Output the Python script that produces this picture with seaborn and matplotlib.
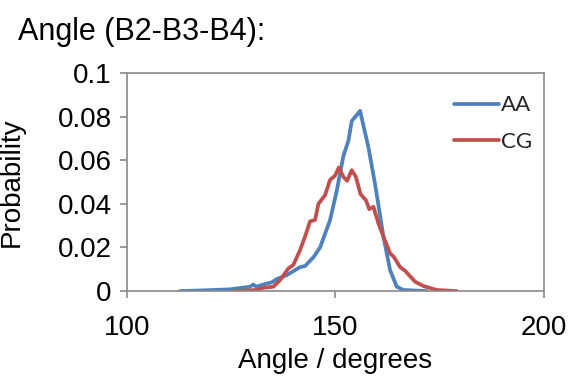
import matplotlib
matplotlib.use("Agg")
import matplotlib.pyplot as plt
import seaborn as sns
import pandas as pd

aa_angle = [112.7, 118.0, 124.7, 129.5, 130.3, 131.0, 132.7, 134.7, 135.9, 138.3, 141.5, 142.7,
            144.7, 146.3, 148.7, 150.3, 151.9, 153.1, 153.9, 155.9, 157.9, 159.5, 161.5,
            163.1, 164.7, 166.3, 171.9]
aa_prob = [0.0, 0.0003, 0.0008, 0.002, 0.003, 0.002, 0.003, 0.004, 0.0055, 0.0073, 0.011, 0.0115,
           0.0155, 0.020, 0.0326, 0.046, 0.062, 0.069, 0.078, 0.0827, 0.066, 0.049, 0.025,
           0.0096, 0.002, 0.0005, 0.0]

cg_angle = [125.5, 131.0, 132.7, 135.1, 136.7, 138.7, 139.9, 141.5, 142.7, 143.9, 145.1, 145.9,
            147.5, 148.7, 149.9, 150.8, 151.9, 152.8, 153.9, 154.9, 156.0, 157.3, 158.1,
            159.1, 160.3, 161.5, 163.1, 164.0, 165.5, 166.7, 169.1, 171.1, 174.3, 179.1]
cg_prob = [0.0, 0.0005, 0.0015, 0.002, 0.005, 0.0104, 0.012, 0.0188, 0.025, 0.032, 0.0326, 0.040,
           0.044, 0.051, 0.053, 0.0567, 0.0524, 0.0506, 0.0555, 0.0524, 0.0445, 0.0417, 0.0376,
           0.0387, 0.031, 0.025, 0.0173, 0.0157, 0.011, 0.0093, 0.0043, 0.0023, 0.0005, 0.0]

series_names = ["AA", "CG"]
x_ticks = [100, 150, 200]
y_ticks = [0, 0.02, 0.04, 0.06, 0.08, 0.1]
y_tick_labels = ["0", "0.02", "0.04", "0.06", "0.08", "0.1"]

df = pd.concat([
    pd.DataFrame({"angle": aa_angle, "prob": aa_prob, "series": series_names[0]}),
    pd.DataFrame({"angle": cg_angle, "prob": cg_prob, "series": series_names[1]}),
])

sns.set_theme(style="white")
plt.rcParams["font.family"] = ["Liberation Sans", "DejaVu Sans"]

fig = plt.figure(figsize=(5.72, 3.81), dpi=100)
ax = fig.add_axes([0.222, 0.236, 0.729, 0.572])

sns.lineplot(data=df, x="angle", y="prob", hue="series", sort=False,
             palette={"AA": "#4F81BD", "CG": "#C0504D"}, linewidth=2.7, ax=ax,
             estimator=None)

ax.set_xlim(100, 200)
ax.set_ylim(0, 0.1)
ax.set_xticks(x_ticks)
ax.set_xticklabels([str(t) for t in x_ticks])
ax.set_yticks(y_ticks)
ax.set_yticklabels(y_tick_labels)

for s in ax.spines.values():
    s.set_color("#898989")
    s.set_linewidth(1.2)
    s.set_visible(True)

ax.tick_params(axis="both", which="both", direction="out", length=5, width=1.2,
               color="#898989", labelsize=20, labelcolor="black", pad=6)
ax.tick_params(axis="x", pad=12)
ax.tick_params(left=True, bottom=True)

ax.set_xlabel("Angle / degrees", fontsize=20, color="black", labelpad=5)
ax.set_ylabel("Probability", fontsize=20, color="black")
ax.yaxis.set_label_coords(-0.245, 0.5)

fig.text(0.031, 0.915, "Angle (B2-B3-B4):", fontsize=22, color="black", va="center", ha="left")

leg = ax.legend(loc="upper right", bbox_to_anchor=(1.025, 1.0), frameon=False,
                handlelength=2.0, handletextpad=0.1, labelspacing=0.75, borderaxespad=0.6,
                prop={"family": ["Lato", "DejaVu Sans"], "size": 16})
for line in leg.get_lines():
    line.set_linewidth(2.7)

fig.savefig("out.png", dpi=100)
